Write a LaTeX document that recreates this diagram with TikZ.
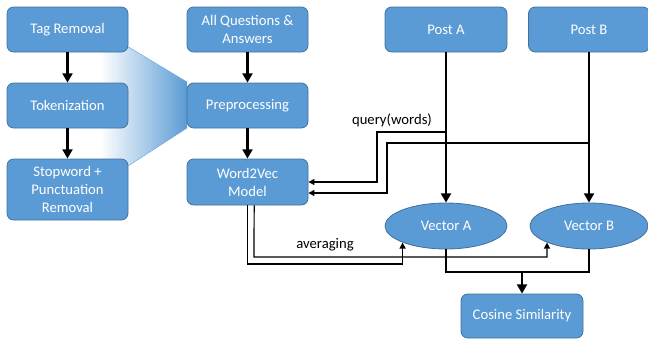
\documentclass[tikz,border=0pt]{standalone}
\usepackage{fontspec}
\setmainfont{Carlito}
\usepackage{xcolor}
\usepackage{tikz}
\usetikzlibrary{shapes,arrows.meta,positioning,calc}
\definecolor{boxblue}{HTML}{5B9BD5}
\definecolor{boxedge}{HTML}{41719C}
\tikzstyle{process} = [rectangle, rounded corners=5pt, minimum width=90.75pt, minimum height=33.75pt, text centered, align=center, draw=boxedge, line width=0.6pt, fill=boxblue, text=white]
\tikzstyle{data} = [ellipse, minimum width=91.5pt, minimum height=34.5pt, text centered, draw=boxedge, line width=0.6pt, fill=boxblue, text=white]
\tikzstyle{arrow} = [line width=2.1pt,-{Triangle[width=7.5pt,length=7pt]}]
\tikzstyle{bline} = [line width=2.1pt]
\tikzstyle{warrow} = [line width=0.9pt,-{Triangle[width=4.5pt,length=4.5pt]}]

\begin{document}
\begin{tikzpicture}[x=0.75pt, y=-0.75pt, font=\fontsize{11}{13.5}\selectfont]
\useasboundingbox (0,0) rectangle (648,339);

% Fondu derriere les etapes
\shade[left color=white, right color=boxblue]
  (100,30) -- (187,82) -- (187,128) -- (100,184) -- cycle;
\draw [boxblue!85, line width=0.4pt] (100,30) -- (187,82) (187,128) -- (100,184);

% Etapes de pretraitement
\node (tag) [process] at (67.5,29.5) {Tag Removal};
\node (token) [process] at (67.5,105.5) {Tokenization};
\node (stop) [process, minimum height=45.75pt] at (67.5,189.5) {Stopword +\\Punctuation\\Removal};

% Corpus
\node (allqa) [process] at (247.5,29.5) {All Questions \&\\Answers};
\node (prep) [process] at (247.5,105.5) {Preprocessing};
\node (w2v) [process, minimum height=34.5pt] at (247.5,182) {Word2Vec\\Model};

% Posts
\node (posta) [process, minimum width=91.5pt] at (446,29.5) {Post A};
\node (postb) [process] at (589,29.5) {Post B};
\node (veca) [data] at (446,226) {Vector A};
\node (vecb) [data, minimum width=88.5pt] at (589,226) {Vector B};
\node (cos) [process, minimum width=91.5pt, minimum height=33pt] at (522,316) {Cosine Similarity};

% Fleches
\draw [arrow] (tag) -- (token);
\draw [arrow] (token) -- (stop);
\draw [arrow] (allqa) -- (prep);
\draw [arrow] (prep) -- (w2v);
\draw [arrow] (posta) -- (veca);
\draw [arrow] (postb) -- (vecb);

% query
\coordinate (qa) at (446,132);
\coordinate (qb) at (589,143);
\draw [warrow] (qa) -- (377,132) |- (w2v.east);
\draw [warrow] (qb) -- (387,143) |- ([yshift=-8.25pt]w2v.east);
\node (query) at (392,120) {query(words)};

% averaging
\draw [warrow] (w2v.south) -- (247.5,264) -| (veca.south west);
\draw [warrow] ([xshift=5pt]w2v.south) -- (254,257) -| (vecb.south west);
\node (avg) at (325,245) {averaging};

% Similarite
\coordinate (join) at (522,272);
\draw [bline] (veca.south) |- (join) -| (vecb.south);
\draw [arrow] (join) -- (cos);

\end{tikzpicture}
\end{document}
